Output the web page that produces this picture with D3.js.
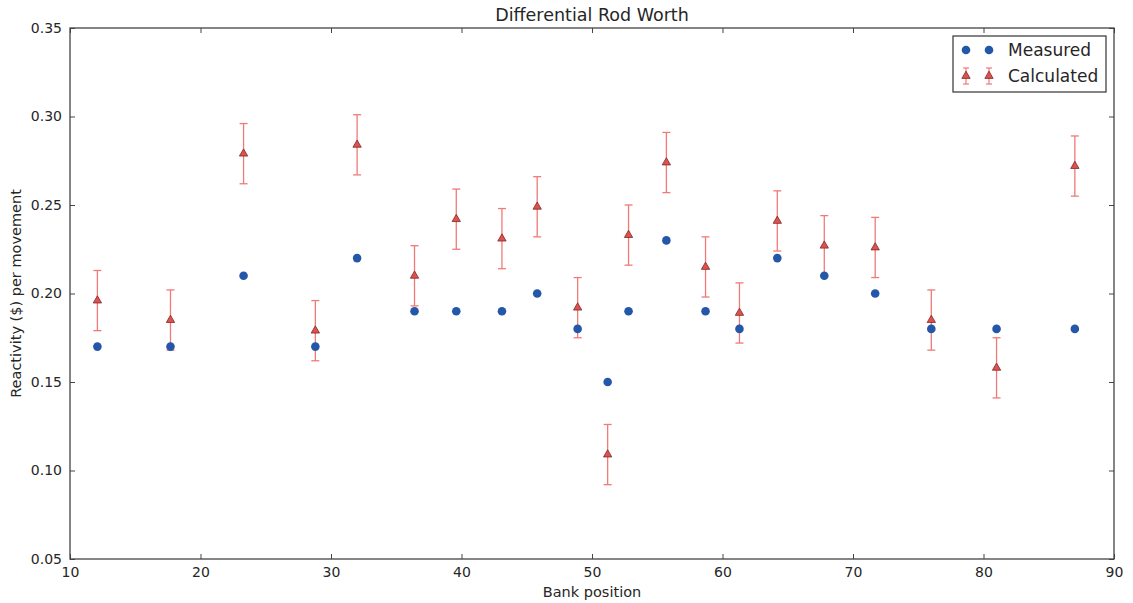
<!DOCTYPE html>
<html>
<head>
<meta charset="utf-8">
<script src="https://cdn.jsdelivr.net/npm/d3@7"></script>
<style>
  body { margin: 0; background: #fff; }
  text { font-family: "DejaVu Sans", sans-serif; fill: #262626; }
</style>
</head>
<body>
<svg width="1133" height="603"></svg>
<script>
// bank positions (x) for each rod movement
var positions = [12.1, 17.7, 23.3, 28.8, 32.0, 36.4, 39.6, 43.1, 45.8, 48.9, 51.2,
                 52.8, 55.7, 58.7, 61.3, 64.2, 67.8, 71.7, 76.0, 81.0, 87.0];
var measured = [0.17, 0.17, 0.21, 0.17, 0.22, 0.19, 0.19, 0.19, 0.20, 0.18, 0.15,
                0.19, 0.23, 0.19, 0.18, 0.22, 0.21, 0.20, 0.18, 0.18, 0.18];
var calculated = [0.196, 0.185, 0.279, 0.179, 0.284, 0.210, 0.242, 0.231, 0.249, 0.192, 0.109,
                  0.233, 0.274, 0.215, 0.189, 0.241, 0.227, 0.226, 0.185, 0.158, 0.272];
var calcErr = 0.017;
var xTicks = [10, 20, 30, 40, 50, 60, 70, 80, 90];
var yTicks = [0.05, 0.10, 0.15, 0.20, 0.25, 0.30, 0.35];

// plot box (note: "top" is reserved on window, so use px* names)
var pxL = 70, pxR = 1114, pxT = 28, pxB = 559;

var svg = d3.select('svg');

var x = d3.scaleLinear().domain([10, 90]).range([pxL, pxR]);
var y = d3.scaleLinear().domain([0.05, 0.35]).range([pxB, pxT]);

// ticks on all four sides, pointing inward (classic style)
svg.append('g').attr('transform', 'translate(0,' + pxB + ')')
  .call(d3.axisBottom(x).tickValues(xTicks).tickSizeInner(-5).tickSizeOuter(0).tickPadding(8));
svg.append('g').attr('transform', 'translate(0,' + pxT + ')')
  .call(d3.axisTop(x).tickValues(xTicks).tickSizeInner(-5).tickSizeOuter(0).tickFormat(''));
svg.append('g').attr('transform', 'translate(' + pxL + ',0)')
  .call(d3.axisLeft(y).tickValues(yTicks).tickSizeInner(-5).tickSizeOuter(0).tickPadding(8).tickFormat(d3.format('.2f')));
svg.append('g').attr('transform', 'translate(' + pxR + ',0)')
  .call(d3.axisRight(y).tickValues(yTicks).tickSizeInner(-5).tickSizeOuter(0).tickFormat(''));

svg.selectAll('.domain').remove();
svg.selectAll('.tick line').attr('stroke', '#444');
svg.selectAll('.tick text').style('font-size', '14px').attr('fill', '#262626');

svg.append('rect')
  .attr('x', pxL).attr('y', pxT)
  .attr('width', pxR - pxL).attr('height', pxB - pxT)
  .attr('fill', 'none').attr('stroke', '#444').attr('stroke-width', 1.3);

// error bars for calculated
var eb = svg.append('g').selectAll('g')
  .data(positions)
  .enter()
  .append('g')
  .attr('stroke', '#f07a78').attr('stroke-width', 1.3);
eb.append('line')
  .attr('x1', function(d) { return x(d); }).attr('x2', function(d) { return x(d); })
  .attr('y1', function(d, i) { return y(calculated[i] - calcErr); })
  .attr('y2', function(d, i) { return y(calculated[i] + calcErr); });
eb.append('line')
  .attr('x1', function(d) { return x(d) - 4; }).attr('x2', function(d) { return x(d) + 4; })
  .attr('y1', function(d, i) { return y(calculated[i] + calcErr); })
  .attr('y2', function(d, i) { return y(calculated[i] + calcErr); });
eb.append('line')
  .attr('x1', function(d) { return x(d) - 4; }).attr('x2', function(d) { return x(d) + 4; })
  .attr('y1', function(d, i) { return y(calculated[i] - calcErr); })
  .attr('y2', function(d, i) { return y(calculated[i] - calcErr); });

var tri = d3.symbol().type(d3.symbolTriangle).size(30);

svg.append('g').selectAll('path')
  .data(positions)
  .enter()
  .append('path')
  .attr('d', tri)
  .attr('transform', function(d, i) { return 'translate(' + x(d) + ',' + y(calculated[i]) + ')'; })
  .attr('fill', '#e0504c').attr('stroke', '#7a2a28').attr('stroke-width', 0.8);

svg.append('g').selectAll('circle')
  .data(positions)
  .enter()
  .append('circle')
  .attr('cx', function(d) { return x(d); })
  .attr('cy', function(d, i) { return y(measured[i]); })
  .attr('r', 4.3)
  .attr('fill', '#2457a8');

// titles
svg.append('text').attr('x', (pxL + pxR) / 2).attr('y', 21)
  .attr('text-anchor', 'middle').style('font-size', '17.5px').text('Differential Rod Worth');
svg.append('text').attr('x', (pxL + pxR) / 2).attr('y', 597)
  .attr('text-anchor', 'middle').style('font-size', '14.5px').text('Bank position');
svg.append('text').attr('transform', 'translate(21,' + ((pxT + pxB) / 2) + ') rotate(-90)')
  .attr('text-anchor', 'middle').style('font-size', '14.5px').text('Reactivity ($) per movement');

// legend
var lg = svg.append('g');
lg.append('rect').attr('x', 953).attr('y', 36).attr('width', 153).attr('height', 56)
  .attr('fill', '#fff').attr('stroke', '#333').attr('stroke-width', 1.2);
[966, 989].forEach(function(lx) {
  lg.append('circle').attr('cx', lx).attr('cy', 50).attr('r', 4.3).attr('fill', '#2457a8');
  var g = lg.append('g').attr('stroke', '#f07a78').attr('stroke-width', 1.2);
  g.append('line').attr('x1', lx).attr('x2', lx).attr('y1', 68).attr('y2', 84);
  g.append('line').attr('x1', lx - 3).attr('x2', lx + 3).attr('y1', 68).attr('y2', 68);
  g.append('line').attr('x1', lx - 3).attr('x2', lx + 3).attr('y1', 84).attr('y2', 84);
  lg.append('path').attr('d', tri).attr('transform', 'translate(' + lx + ',76)')
    .attr('fill', '#e0504c').attr('stroke', '#7a2a28').attr('stroke-width', 0.8);
});
lg.append('text').attr('x', 1008).attr('y', 56).style('font-size', '17px').text('Measured');
lg.append('text').attr('x', 1008).attr('y', 82).style('font-size', '17px').text('Calculated');
</script>
</body>
</html>
